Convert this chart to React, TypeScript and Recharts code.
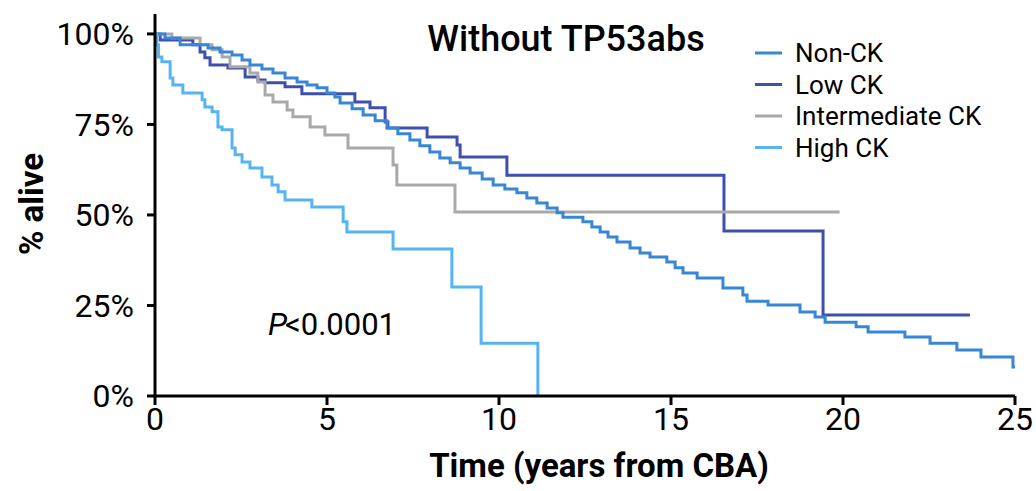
import React from "react";
import { LineChart, Line, XAxis, YAxis, Legend } from "recharts";

// [years, % alive]
const nonCk: [number, number][] = [
  [0, 100], [0.29, 98.9], [0.73, 97], [1.54, 96.1], [1.89, 95], [2.24, 94.2],
  [2.53, 92.8], [2.76, 91.4], [3.11, 90.3], [3.43, 89.2], [3.78, 87.8], [4.13, 86.7],
  [4.42, 85.9], [4.71, 85.1], [5.0, 83.7], [5.23, 82.6], [5.38, 80.9], [5.73, 79.3],
  [6.05, 77.6], [6.4, 76], [6.74, 74], [7.06, 72.4], [7.41, 70.7], [7.7, 69.1],
  [7.99, 67.4], [8.28, 65.7], [8.58, 64.4], [8.87, 63], [9.16, 61.6], [9.51, 59.9],
  [9.83, 58.3], [10.17, 57.2], [10.52, 56.1], [10.81, 54.7], [11.1, 53.3], [11.4, 51.9],
  [11.69, 50.6], [11.86, 49.4], [12.44, 48.1], [12.7, 46.7], [12.94, 45.3], [13.17, 43.9],
  [13.43, 42.5], [13.81, 40.9], [14.1, 39.5], [14.39, 38.4], [14.88, 37], [15.12, 35.4],
  [15.35, 34], [15.76, 32.6], [16.51, 29.8], [17.09, 27.9], [17.21, 26.2], [17.82, 25.1],
  [18.75, 23.2], [19.19, 21.8], [19.48, 20.4], [20.38, 19.1], [20.73, 17.7], [21.8, 16.3],
  [22.53, 14.6], [23.31, 12.7], [24.01, 10.8], [24.94, 8.0], [25, 8.0],
];

const lowCk: [number, number][] = [
  [0, 100], [0.15, 98.3], [1.1, 97], [1.31, 95], [1.45, 93.4], [1.6, 91.4],
  [2.12, 90.6], [2.62, 88.1], [2.99, 87.3], [3.2, 86.5], [3.78, 85.4], [4.27, 83.5],
  [5.81, 81.2], [6.25, 79.6], [6.69, 75.7], [6.77, 74], [7.91, 71.5], [8.78, 69.3],
  [8.87, 66], [10.23, 61], [16.54, 45.6], [19.42, 22.4], [23.69, 22.4],
];

const intermediateCk: [number, number][] = [
  [0, 100], [0.49, 98.9], [1.31, 97], [1.66, 95.6], [1.95, 93.6], [2.18, 90.9],
  [2.76, 89.2], [2.99, 86.7], [3.2, 83.1], [3.43, 81.2], [3.84, 79], [4.01, 77.1],
  [4.51, 74.3], [4.94, 72.1], [5.61, 68.5], [6.92, 63.8], [7.03, 58.3], [8.72, 50.8],
  [19.9, 50.8],
];

const highCk: [number, number][] = [
  [0, 100], [0.05, 97], [0.1, 93.6], [0.2, 92.3], [0.44, 87.8], [0.52, 85.9],
  [0.81, 83.7], [1.37, 81.8], [1.45, 79.8], [1.66, 78.5], [1.83, 74.3], [1.95, 73.5],
  [2.24, 68.5], [2.33, 66.6], [2.53, 64.6], [2.76, 63], [3.11, 60.5], [3.4, 58.3],
  [3.58, 56.4], [3.78, 54.1], [4.56, 52.2], [5.47, 48.1], [5.58, 45.3], [6.92, 40.6],
  [8.63, 30.1], [9.48, 14.6], [11.13, 0],
];

const xTicks = [0, 5, 10, 15, 20, 25];
const yTicks = [0, 25, 50, 75, 100];

const series = [
  { name: "Non-CK", points: nonCk, color: "#3886d6" },
  { name: "Low CK", points: lowCk, color: "#3e4fae" },
  { name: "Intermediate CK", points: intermediateCk, color: "#a9a9a9" },
  { name: "High CK", points: highCk, color: "#56b4f2" },
];

// drawing order (back to front)
const drawOrder = ["Low CK", "Intermediate CK", "Non-CK", "High CK"];

const toRows = (pts: [number, number][]) => pts.map(([t, s]) => ({ t, s }));

const FONT = "Roboto, 'DejaVu Sans', sans-serif";

function LegendBox() {
  return (
    <svg width={260} height={130}>
      {series.map((s, i) => (
        <g key={s.name}>
          <line x1={0} x2={27} y1={17 + i * 31.5} y2={17 + i * 31.5} stroke={s.color} strokeWidth={3} />
          <text x={40} y={26 + i * 31.5} fontSize={26} fill="#000" fontFamily={FONT}>
            {s.name}
          </text>
        </g>
      ))}
    </svg>
  );
}

export default function App() {
  return (
    <div style={{ position: "relative", width: 1036, height: 491, background: "#fff", fontFamily: FONT }}>
      <style>{"body{margin:0}"}</style>
      <LineChart width={1036} height={491} margin={{ top: 14, right: 21, bottom: 0, left: 0 }}>
        <XAxis
          dataKey="t"
          type="number"
          domain={[0, 25]}
          ticks={xTicks}
          height={95}
          axisLine={{ stroke: "#000", strokeWidth: 3 }}
          tickLine={{ stroke: "#000", strokeWidth: 3 }}
          tickSize={9}
          tickMargin={2}
          tick={{ fontSize: 32, fill: "#000", fontFamily: FONT }}
          allowDuplicatedCategory={false}
        />
        <YAxis
          dataKey="s"
          type="number"
          domain={[0, 105.5]}
          ticks={yTicks}
          width={155}
          axisLine={{ stroke: "#000", strokeWidth: 3 }}
          tickLine={{ stroke: "#000", strokeWidth: 3 }}
          tickSize={8}
          tickMargin={13}
          tickFormatter={(v: number) => `${v}%`}
          tick={{ fontSize: 32, fill: "#000", fontFamily: FONT }}
        />
        <Legend
          layout="horizontal"
          verticalAlign="middle"
          align="center"
          wrapperStyle={{ top: 36, left: 755, width: 260, height: 130 }}
          content={() => <LegendBox />}
        />
        {drawOrder.map((n) => {
          const s = series.find((x) => x.name === n)!;
          return (
            <Line
              key={s.name}
              name={s.name}
              data={toRows(s.points)}
              dataKey="s"
              type="stepAfter"
              stroke={s.color}
              strokeWidth={3}
              dot={false}
              activeDot={false}
              isAnimationActive={false}
            />
          );
        })}
      </LineChart>
      <svg
        width={1036}
        height={491}
        style={{ position: "absolute", left: 0, top: 0, pointerEvents: "none" }}
        fontFamily={FONT}
      >
        <text x={566} y={51} textAnchor="middle" fontSize={36} fontWeight={500} fill="#000">
          Without TP53abs
        </text>
        <text x={268} y={335} fontSize={31} fill="#000">
          <tspan fontStyle="italic">P</tspan>
          <tspan dx={-2}>{"<0.0001"}</tspan>
        </text>
        <text x={599} y={477} textAnchor="middle" fontSize={33} fontWeight={700} fill="#000">
          Time (years from CBA)
        </text>
        <text
          transform="translate(43,204) rotate(-90)"
          textAnchor="middle"
          fontSize={33}
          fontWeight={700}
          fill="#000"
        >
          % alive
        </text>
      </svg>
    </div>
  );
}
